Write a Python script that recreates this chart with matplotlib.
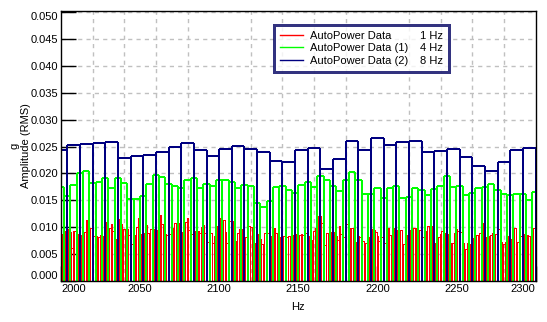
import numpy as np
import matplotlib
matplotlib.use("Agg")
import matplotlib.pyplot as plt
from matplotlib.lines import Line2D

plt.rcParams['font.family'] = ['Liberation Sans', 'DejaVu Sans']
plt.rcParams['font.size'] = 8

# 1 Hz resolution, 2000..2300 Hz
red_vals = [
    0.0088, 0.0082, 0.0079, 0.0093, 0.0097, 0.0097, 0.0091, 0.0062, 0.0093, 0.0093,
    0.0088, 0.0086, 0.0083, 0.0086, 0.0079, 0.0092, 0.0114, 0.0114, 0.0086, 0.0099,
    0.0093, 0.0083, 0.0083, 0.0080, 0.0081, 0.0086, 0.0084, 0.0076, 0.0095, 0.0109,
    0.0085, 0.0099, 0.0106, 0.0093, 0.0078, 0.0071, 0.0088, 0.0115, 0.0106, 0.0096,
    0.0097, 0.0090, 0.0096, 0.0086, 0.0090, 0.0068, 0.0059, 0.0085, 0.0101, 0.0118,
    0.0081, 0.0087, 0.0088, 0.0090, 0.0104, 0.0090, 0.0081, 0.0096, 0.0086, 0.0097,
    0.0088, 0.0094, 0.0113, 0.0123, 0.0106, 0.0092, 0.0088, 0.0086, 0.0073, 0.0087,
    0.0091, 0.0099, 0.0107, 0.0095, 0.0106, 0.0107, 0.0091, 0.0084, 0.0062, 0.0109,
    0.0118, 0.0094, 0.0099, 0.0088, 0.0093, 0.0085, 0.0079, 0.0093, 0.0089, 0.0101,
    0.0104, 0.0090, 0.0073, 0.0073, 0.0084, 0.0089, 0.0071, 0.0083, 0.0077, 0.0102,
    0.0111, 0.0118, 0.0100, 0.0114, 0.0092, 0.0071, 0.0088, 0.0111, 0.0102, 0.0112,
    0.0071, 0.0075, 0.0089, 0.0097, 0.0091, 0.0097, 0.0069, 0.0082, 0.0084, 0.0103,
    0.0100, 0.0087, 0.0071, 0.0071, 0.0086, 0.0088, 0.0078, 0.0068, 0.0062, 0.0090,
    0.0104, 0.0090, 0.0084, 0.0070, 0.0090, 0.0099, 0.0089, 0.0083, 0.0075, 0.0081,
    0.0083, 0.0084, 0.0084, 0.0082, 0.0084, 0.0079, 0.0084, 0.0086, 0.0081, 0.0088,
    0.0079, 0.0086, 0.0088, 0.0085, 0.0081, 0.0090, 0.0084, 0.0080, 0.0076, 0.0077,
    0.0093, 0.0099, 0.0108, 0.0120, 0.0120, 0.0107, 0.0106, 0.0067, 0.0089, 0.0089,
    0.0089, 0.0092, 0.0086, 0.0092, 0.0084, 0.0076, 0.0103, 0.0087, 0.0087, 0.0081,
    0.0088, 0.0106, 0.0099, 0.0099, 0.0099, 0.0068, 0.0073, 0.0073, 0.0084, 0.0081,
    0.0078, 0.0075, 0.0051, 0.0070, 0.0075, 0.0082, 0.0090, 0.0097, 0.0094, 0.0092,
    0.0083, 0.0075, 0.0073, 0.0082, 0.0076, 0.0070, 0.0099, 0.0099, 0.0085, 0.0073,
    0.0060, 0.0099, 0.0094, 0.0094, 0.0089, 0.0095, 0.0068, 0.0068, 0.0076, 0.0086,
    0.0089, 0.0094, 0.0099, 0.0099, 0.0099, 0.0093, 0.0089, 0.0094, 0.0083, 0.0081,
    0.0092, 0.0093, 0.0103, 0.0103, 0.0103, 0.0102, 0.0070, 0.0070, 0.0078, 0.0081,
    0.0088, 0.0093, 0.0090, 0.0088, 0.0086, 0.0087, 0.0064, 0.0070, 0.0070, 0.0089,
    0.0097, 0.0093, 0.0093, 0.0092, 0.0070, 0.0043, 0.0060, 0.0070, 0.0068, 0.0068,
    0.0076, 0.0080, 0.0084, 0.0086, 0.0079, 0.0090, 0.0107, 0.0099, 0.0081, 0.0081,
    0.0081, 0.0083, 0.0086, 0.0089, 0.0087, 0.0088, 0.0092, 0.0097, 0.0073, 0.0063,
    0.0068, 0.0073, 0.0084, 0.0076, 0.0068, 0.0078, 0.0089, 0.0099, 0.0072, 0.0072,
    0.0078, 0.0084, 0.0088, 0.0082, 0.0086, 0.0086, 0.0083, 0.0081, 0.0095, 0.0099,
    0.0099,
]

# 4 Hz resolution, 2000..2300 Hz
green_vals = [
    0.0175, 0.0158, 0.0179, 0.0200, 0.0204, 0.0183, 0.0185, 0.0192, 0.0173, 0.0192,
    0.0183, 0.0153, 0.0153, 0.0158, 0.0181, 0.0198, 0.0194, 0.0181, 0.0177, 0.0173,
    0.0188, 0.0192, 0.0173, 0.0181, 0.0177, 0.0188, 0.0188, 0.0185, 0.0173, 0.0179,
    0.0177, 0.0145, 0.0138, 0.0148, 0.0175, 0.0177, 0.0170, 0.0164, 0.0179, 0.0185,
    0.0175, 0.0196, 0.0188, 0.0177, 0.0168, 0.0188, 0.0203, 0.0188, 0.0162, 0.0162,
    0.0173, 0.0155, 0.0173, 0.0177, 0.0155, 0.0157, 0.0173, 0.0170, 0.0160, 0.0171,
    0.0177, 0.0196, 0.0175, 0.0177, 0.0160, 0.0164, 0.0173, 0.0175, 0.0181, 0.0170,
    0.0162, 0.0160, 0.0162, 0.0162, 0.0151, 0.0166,
]

# 8 Hz resolution, 2000..2296 Hz
navy_vals = [
    0.0243, 0.0253, 0.0255, 0.0257, 0.0259, 0.0229, 0.0233, 0.0235, 0.0239, 0.0250,
    0.0257, 0.0243, 0.0233, 0.0246, 0.0251, 0.0246, 0.0239, 0.0224, 0.0222, 0.0244,
    0.0248, 0.0209, 0.0227, 0.0261, 0.0244, 0.0266, 0.0253, 0.0259, 0.0261, 0.0240,
    0.0242, 0.0246, 0.0231, 0.0214, 0.0205, 0.0222, 0.0244, 0.0248,
]

f_start = 2000

series = [
    ("AutoPower Data", "1 Hz", "#ff0000", red_vals, 1, 0.65),
    ("AutoPower Data (1)", "4 Hz", "#00ff00", green_vals, 4, 1.4),
    ("AutoPower Data (2)", "8 Hz", "#000080", navy_vals, 8, 1.4),
]


def draw_bins(ax, vals, width, color, lw, z):
    # each bin as an open rectangle: sides down to zero plus the top
    vals = np.asarray(vals)
    centers = f_start + width * np.arange(len(vals))
    left = centers - width / 2
    right = centers + width / 2
    edges = np.append(left, right[-1])
    padded = np.concatenate([[0], vals, [0]])
    side_h = np.maximum(padded[:-1], padded[1:])
    ax.vlines(edges, 0, side_h, colors=color, linewidth=lw,
              antialiased=False, zorder=z)
    ax.hlines(vals, left, right, colors=color, linewidth=lw,
              antialiased=False, zorder=z)


fig = plt.figure(figsize=(5.47, 3.22), dpi=100)
ax = fig.add_axes([0.1115, 0.1273, 0.8675, 0.8385])

handles = []
for i, (name, res, col, vals, w, lw) in enumerate(series):
    draw_bins(ax, vals, w, col, lw, 2 + i)
    handles.append(Line2D([], [], color=col, linewidth=1))

ax.set_xlim(2000, 2300)
ax.set_ylim(0, 0.0502)
ax.set_xticks(np.arange(2000, 2301, 50))
ax.set_xticks(np.arange(2000, 2301, 20), minor=True)
ax.set_yticks(np.linspace(0, 0.05, 11))
ax.yaxis.set_major_formatter(plt.FormatStrFormatter('%.3f'))

ax.tick_params(which='major', direction='in', length=10.5, width=1,
               color='black', pad=2, labelsize=8)
ax.tick_params(which='minor', length=0)
ax.grid(which='minor', axis='x', color='#c0c0c0', linestyle=(0, (3, 3)), linewidth=1)
ax.grid(which='major', axis='y', color='#c0c0c0', linestyle=(0, (3, 3)), linewidth=1)
ax.set_axisbelow(True)
for sp in ax.spines.values():
    sp.set_linewidth(1)
    sp.set_color('black')
    sp.set_zorder(6)

# keep the end labels inside the plot edges
xl = ax.get_xticklabels()
xl[0].set_ha('left')
xl[-1].set_ha('right')
yl = ax.get_yticklabels()
yl[0].set_va('bottom')
yl[-1].set_va('top')

ax.set_xlabel('Hz', fontsize=8, labelpad=6)
ax.set_ylabel('g\nAmplitude (RMS)', fontsize=8, labelpad=0, linespacing=1.1)

leg = ax.legend(handles, [s[0] for s in series], loc='upper left',
                bbox_to_anchor=(0.449, 0.763, 0.369, 0.185), mode='expand',
                fontsize=8, frameon=True, fancybox=False, handlelength=2.1,
                handletextpad=0.6, labelspacing=0.25, borderpad=0.5,
                borderaxespad=0)
leg.get_frame().set_edgecolor('#000060')
leg.get_frame().set_linewidth(2)
leg.get_frame().set_antialiased(False)
leg.set_zorder(10)

# resolution text at the right side of each legend row
fig.canvas.draw()
frame_bb = leg.get_frame().get_window_extent()
for txt, s in zip(leg.get_texts(), series):
    bb = txt.get_window_extent()
    ymid = (bb.y0 + bb.y1) / 2
    fig.text((frame_bb.x1 - 6) / fig.bbox.width, ymid / fig.bbox.height, s[1],
             ha='right', va='center', fontsize=8, zorder=11)

fig.savefig('out.png', dpi=100)
